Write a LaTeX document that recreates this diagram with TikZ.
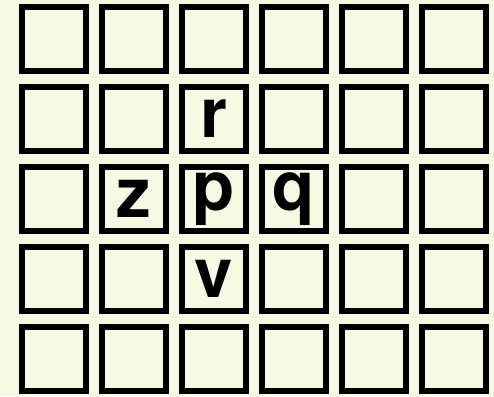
\documentclass[tikz,border=0pt]{standalone}
\usepackage{fontspec}
\setmainfont{TeX Gyre Heros}
\usepackage{tikz}
\usetikzlibrary{positioning}
\definecolor{paper}{HTML}{F8F9E3}

\begin{document}
\begin{tikzpicture}[
  x=1pt, y=1pt,
  cell/.style={draw, line width=6pt, minimum size=64pt, inner sep=0pt},
  letter/.style={font=\fontsize{69}{72}\selectfont\bfseries, inner sep=0pt}
]
\fill[paper] (0,0) rectangle (494,-396);
\useasboundingbox (0,0) rectangle (494,-396);

% the 6 x 5 grid of cells
\foreach \i in {0,...,5}
  \foreach \j in {0,...,4}
    \node[cell] (c-\i-\j) at ({54+80*\i},{-39-80*\j}) {};

\node[letter] (r) at (c-2-1) {r};
\node[letter] (z) at (c-1-2) {z};
\node[letter] (p) at (c-2-2) {p};
\node[letter] (q) at (c-3-2) {q};
\node[letter] (v) at (c-2-3) {v};
\end{tikzpicture}
\end{document}
